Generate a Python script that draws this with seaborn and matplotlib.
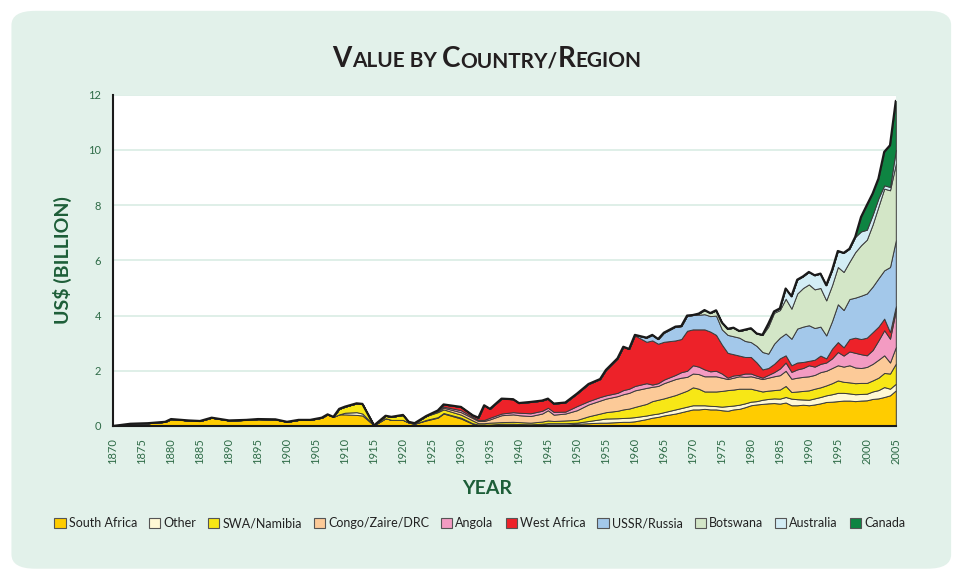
import numpy as np
import matplotlib
matplotlib.use("Agg")
import matplotlib.pyplot as plt
import seaborn as sns
from matplotlib.patches import FancyBboxPatch, Patch

# years (irregular spacing where the shape changes)
years = [1870, 1873, 1876, 1879, 1880, 1883, 1885, 1887, 1890, 1893, 1895, 1898,
         1900, 1902, 1904, 1906, 1907, 1908, 1909, 1910, 1912, 1913, 1915, 1917,
         1918, 1920, 1921, 1922, 1924, 1926, 1927, 1930, 1932, 1933, 1934, 1935,
         1937, 1939, 1940, 1942, 1944, 1945, 1946, 1948, 1950, 1952, 1954, 1955,
         1957, 1958, 1959, 1960, 1962, 1963, 1964, 1965, 1967, 1968, 1969, 1970,
         1971, 1972, 1973, 1974, 1975, 1976, 1977, 1978, 1979, 1980, 1981, 1982,
         1983, 1984, 1985, 1986, 1987, 1988, 1989, 1990, 1991, 1992, 1993, 1994,
         1995, 1996, 1997, 1998, 1999, 2000, 2001, 2002, 2003, 2004, 2005]

south_africa = [0, .08, .10, .15, .25, .20, .18, .30, .20, .22, .25, .24,
                .15, .22, .22, .30, .42, .33, .42, .42, .40, .38, .02, .28,
                .22, .22, .12, .08, .20, .30, .45, .27, .08, .03, .03, .03,
                .06, .06, .05, .04, .05, .05, .05, .05, .08, .10, .12, .12,
                .14, .15, .15, .17, .25, .30, .33, .38, .45, .50, .55, .60,
                .60, .62, .60, .60, .57, .55, .60, .62, .68, .75, .78, .80,
                .82, .83, .81, .85, .75, .75, .77, .75, .78, .82, .87, .88,
                .90, .92, .92, .90, .92, .93, .98, 1.00, 1.05, 1.11, 1.29]
other = [0, 0, 0, 0, 0, 0, 0, 0, 0, 0, 0, 0,
         0, 0, 0, 0, 0, 0, 0, .06, .10, .07, 0, 0,
         0, 0, 0, 0, .02, .02, .02, .03, .02, .02, .02, .02,
         .02, .02, .02, .02, .03, .05, .05, .05, .04, .08, .12, .15,
         .14, .14, .15, .15, .13, .12, .12, .12, .15, .15, .15, .15,
         .15, .13, .13, .12, .13, .17, .14, .15, .14, .13, .12, .15,
         .16, .17, .18, .20, .24, .22, .19, .20, .22, .23, .24, .27,
         .30, .28, .26, .25, .24, .24, .27, .30, .36, .24, .24]
swa_namibia = [0, 0, 0, 0, 0, 0, 0, 0, 0, 0, 0, 0,
               0, 0, 0, 0, 0, 0, .20, .22, .32, .35, 0, .09,
               .11, .18, .03, .02, .14, .18, .13, .11, .10, .05, .05, .07,
               .06, .07, .07, .06, .08, .10, .08, .10, .10, .17, .21, .23,
               .27, .31, .33, .37, .42, .48, .50, .50, .52, .55, .58, .65,
               .60, .50, .52, .53, .57, .58, .58, .58, .53, .47, .40, .30,
               .30, .30, .33, .40, .24, .28, .31, .34, .35, .35, .36, .40,
               .45, .40, .40, .40, .40, .39, .40, .45, .51, .55, .73]
congo = [0, 0, 0, 0, 0, 0, 0, 0, 0, 0, 0, 0,
         0, 0, 0, 0, 0, 0, 0, 0, 0, 0, 0, 0,
         0, 0, 0, 0, 0, .03, .06, .09, .09, .08, .08, .12,
         .25, .27, .25, .24, .29, .37, .23, .25, .35, .43, .47, .49,
         .53, .55, .57, .60, .58, .52, .50, .55, .58, .55, .50, .50,
         .53, .55, .55, .55, .48, .40, .43, .45, .43, .45, .45, .45,
         .47, .50, .52, .55, .48, .50, .51, .51, .50, .55, .53, .55,
         .55, .55, .62, .57, .54, .58, .60, .65, .64, .40, .60]
angola = [0, 0, 0, 0, 0, 0, 0, 0, 0, 0, 0, 0,
          0, 0, 0, 0, 0, 0, 0, 0, 0, 0, 0, 0,
          0, 0, 0, 0, 0, .02, .04, .07, .04, .04, .04, .06,
          .06, .08, .09, .10, .10, .09, .10, .07, .15, .12, .13, .12,
          .12, .15, .15, .16, .17, .08, .10, .13, .15, .20, .22, .30,
          .27, .25, .18, .20, .15, .05, .08, .05, .12, .10, .07, .05,
          .10, .15, .24, .30, .25, .30, .32, .40, .30, .30, .30, .35,
          .48, .40, .50, .53, .50, .42, .50, .70, .91, .86, 1.33]
west_africa = [0, 0, 0, 0, 0, 0, 0, 0, 0, 0, 0, 0,
               0, 0, 0, 0, 0, 0, 0, 0, 0, 0, 0, 0,
               0, 0, 0, 0, 0, .01, .08, .12, .06, .08, .53, .32,
               .54, .47, .35, .41, .37, .33, .30, .33, .45, .62, .65, .92,
               1.25, 1.57, 1.44, 1.83, 1.50, 1.60, 1.43, 1.37, 1.25, 1.20, 1.45, 1.30,
               1.35, 1.45, 1.44, 1.30, 1.05, .90, .77, .70, .60, .60, .48, .30,
               .25, .30, .37, .26, .24, .25, .22, .16, .25, .30, .15, .35,
               .36, .30, .45, .55, .55, .64, .65, .50, .42, .24, .15]
ussr_russia = [0, 0, 0, 0, 0, 0, 0, 0, 0, 0, 0, 0,
               0, 0, 0, 0, 0, 0, 0, 0, 0, 0, 0, 0,
               0, 0, 0, 0, 0, 0, 0, 0, 0, 0, 0, 0,
               0, 0, 0, 0, 0, 0, 0, 0, 0, 0, 0, 0,
               0, 0, 0, .02, .15, .20, .17, .33, .50, .47, .55, .52,
               .53, .55, .56, .70, .55, .65, .65, .65, .58, .54, .60, .63,
               .52, .73, .75, .79, .96, 1.23, 1.28, 1.29, 1.15, 1.05, .83, 1.00,
               1.37, 1.35, 1.45, 1.45, 1.57, 1.60, 1.65, 1.75, 1.75, 2.36, 2.39]
botswana = [0, 0, 0, 0, 0, 0, 0, 0, 0, 0, 0, 0,
            0, 0, 0, 0, 0, 0, 0, 0, 0, 0, 0, 0,
            0, 0, 0, 0, 0, 0, 0, 0, 0, 0, 0, 0,
            0, 0, 0, 0, 0, 0, 0, 0, 0, 0, 0, 0,
            0, 0, 0, 0, 0, 0, 0, 0, 0, 0, 0, 0,
            .04, .15, .11, .19, .25, .22, .31, .24, .41, .50, .45, .62,
            .98, 1.12, 1.00, 1.26, 1.09, 1.27, 1.40, 1.48, 1.40, 1.40, 1.27, 1.30,
            1.35, 1.38, 1.35, 1.65, 1.83, 1.95, 2.25, 2.60, 2.96, 2.78, 2.77]
australia = [0, 0, 0, 0, 0, 0, 0, 0, 0, 0, 0, 0,
             0, 0, 0, 0, 0, 0, 0, 0, 0, 0, 0, 0,
             0, 0, 0, 0, 0, 0, 0, 0, 0, 0, 0, 0,
             0, 0, 0, 0, 0, 0, 0, 0, 0, 0, 0, 0,
             0, 0, 0, 0, 0, 0, 0, 0, 0, 0, 0, 0,
             0, 0, 0, 0, 0, 0, 0, 0, 0, 0, 0, 0,
             .10, .05, .06, .37, .45, .50, .42, .45, .51, .52, .55, .54,
             .58, .69, .47, .55, .50, .36, .35, .30, .12, .12, .50]
canada = [0, 0, 0, 0, 0, 0, 0, 0, 0, 0, 0, 0,
          0, 0, 0, 0, 0, 0, 0, 0, 0, 0, 0, 0,
          0, 0, 0, 0, 0, 0, 0, 0, 0, 0, 0, 0,
          0, 0, 0, 0, 0, 0, 0, 0, 0, 0, 0, 0,
          0, 0, 0, 0, 0, 0, 0, 0, 0, 0, 0, 0,
          0, 0, 0, 0, 0, 0, 0, 0, 0, 0, 0, 0,
          0, 0, 0, 0, 0, 0, 0, 0, 0, 0, 0, 0,
          0, 0, 0, 0, .52, .89, .77, .71, 1.21, 1.51, 1.78]

labels = ["South Africa", "Other", "SWA/Namibia", "Congo/Zaire/DRC", "Angola",
          "West Africa", "USSR/Russia", "Botswana", "Australia", "Canada"]
colors = ["#FFCC00", "#FFF8D4", "#F7E716", "#FCCA98", "#F39BC2",
          "#ED2229", "#A3C8EA", "#D3E6C7", "#D3EDF5", "#0E8442"]
series = [south_africa, other, swa_namibia, congo, angola,
          west_africa, ussr_russia, botswana, australia, canada]

sns.set_style("white")
plt.rcParams['font.family'] = ['Lato', 'DejaVu Sans']

fig = plt.figure(figsize=(9.54, 5.71), dpi=100)
fig.patch.set_facecolor("white")
bg = FancyBboxPatch((0.012, 0.004), 0.985, 0.977, boxstyle="round,pad=0,rounding_size=0.025",
                    transform=fig.transFigure, facecolor="#E2F1EA", edgecolor="none", zorder=-10)
fig.patches.append(bg)

ax = fig.add_axes([0.1185, 0.254, 0.8205, 0.58])
ax.set_facecolor("white")

ax.stackplot(years, *series, colors=colors, edgecolor="#3b3b3b", linewidth=0.7, zorder=2)
total = np.sum(np.array(series), axis=0)
ax.plot(years, total, color="#1a1a1a", lw=1.6, zorder=3)

ax.set_xlim(1870, 2005)
ax.set_ylim(0, 12)
ax.set_xticks(range(1870, 2006, 5))
ax.set_yticks(range(0, 13, 2))
ax.yaxis.grid(True, color="#DCEEE6", lw=1.3, zorder=0)
ax.xaxis.grid(False)
ax.set_axisbelow(True)
for s in ["top", "right"]:
    ax.spines[s].set_visible(False)
for s in ["left", "bottom"]:
    ax.spines[s].set_color("#1a1a1a")
    ax.spines[s].set_linewidth(1.5)
    ax.spines[s].set_zorder(5)
ax.tick_params(axis="both", direction="out", length=5, width=1.3, color="#1a1a1a",
               labelsize=8, labelcolor="#2E6B47")
ax.tick_params(axis="x", labelrotation=90)

fig.text(0.065, 0.545, "US$ (BILLION)", rotation=90, ha="center", va="center",
         fontsize=14, fontweight="bold", color="#1D5E38")
fig.text(0.511, 0.145, "YEAR", ha="center", va="center",
         fontsize=14, fontweight="bold", color="#1D5E38")

# small caps title built from pieces
pieces = [("V", 20), ("ALUE BY ", 15), ("C", 20), ("OUNTRY/", 15), ("R", 20), ("EGION", 15)]
renderer = fig.canvas.get_renderer()
texts = []
for s, fs in pieces:
    t = fig.text(0, 0.882, s, fontsize=fs, fontweight="bold", color="#231F20",
                 ha="left", va="baseline")
    texts.append(t)
widths = [t.get_window_extent(renderer).width for t in texts]
W = fig.get_figwidth() * fig.dpi
x = 487 - sum(widths) / 2
for t, w in zip(texts, widths):
    t.set_x(x / W)
    x += w

handles = [Patch(facecolor=c, edgecolor="#555555", linewidth=0.8) for c in colors]
fig.legend(handles, labels, loc="center", bbox_to_anchor=(0.503, 0.084), ncol=10,
           frameon=False, fontsize=9, handlelength=0.9, handleheight=0.9,
           handletextpad=0.25, columnspacing=0.95, labelcolor="#222222")

fig.savefig("out.png", dpi=100, facecolor=fig.get_facecolor())
